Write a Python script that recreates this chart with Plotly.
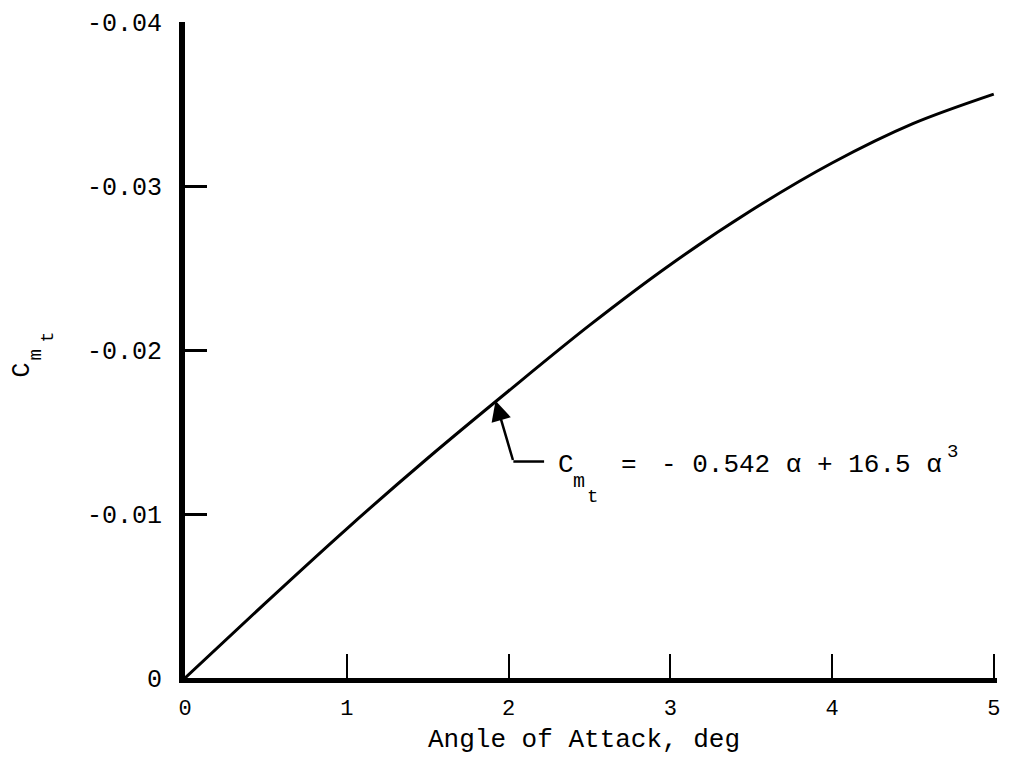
import plotly.graph_objects as go

# Data
alpha_deg = [0, 0.5, 1.0, 1.5, 2.0, 2.5, 3.0, 3.5, 4.0, 4.5, 5.0]
cm_t = [0, -0.0046, -0.0091, -0.0134, -0.0175, -0.0215, -0.0252, -0.0285, -0.0314, -0.0338, -0.0356]

x_ticks = [0, 1, 2, 3, 4, 5]
x_tick_text = ["0", "1", "2", "3", "4", "5"]
y_ticks = [0, -0.01, -0.02, -0.03, -0.04]
y_tick_text = ["0", "-0.01", "-0.02", "-0.03", "-0.04"]

FONT = "Liberation Mono, Courier New, monospace"

# page has an 8px body margin; figure sized so the page fits the 1009x765 window
W, H = 993, 749
ML, MR, MT, MB = 177, 1, 14, 79
PW, PH = W - ML - MR, H - MT - MB
OFF = 8


def px(X):  # screenshot x -> paper x
    return (X - OFF - ML) / PW


def py(Y):  # screenshot y -> paper y
    return (H - MB - (Y - OFF)) / PH


fig = go.Figure()
fig.add_trace(go.Scatter(
    x=alpha_deg, y=cm_t, mode="lines",
    line=dict(color="black", width=3, shape="spline", smoothing=0.9),
    showlegend=False, hoverinfo="skip",
))

fig.update_layout(
    width=W, height=H,
    margin=dict(l=ML, r=MR, t=MT, b=MB),
    paper_bgcolor="white", plot_bgcolor="white",
    font=dict(family=FONT, color="black", size=22),
    xaxis=dict(
        range=[0, 5.02], tickvals=x_ticks, ticktext=x_tick_text,
        showgrid=False, zeroline=False,
        showline=True, linecolor="black", linewidth=5,
        ticks="inside", ticklen=24, tickwidth=2, tickcolor="black",
        tickfont=dict(family=FONT, size=22),
        ticklabelstandoff=6, ticklabeloverflow="allow",
    ),
    yaxis=dict(
        range=[0, -0.04], tickvals=y_ticks, ticktext=y_tick_text,
        showgrid=False, zeroline=False,
        showline=True, linecolor="black", linewidth=6,
        ticks="inside", ticklen=22, tickwidth=3, tickcolor="black",
        tickfont=dict(family=FONT, size=25),
        ticklabelstandoff=12,
    ),
)


def txt(text, X, Y, size, angle=0, xanchor="center"):
    fig.add_annotation(
        xref="paper", yref="paper", x=px(X), y=py(Y), text=text,
        textangle=angle, showarrow=False, xanchor=xanchor, yanchor="middle",
        font=dict(family=FONT, size=size, color="black"),
    )


# x-axis title
txt("Angle of Attack, deg", 585, 740, 26)

# y-axis title C_m_t (rotated)
txt("C", 21, 370, 25, angle=-90)
txt("m", 35, 355, 19, angle=-90)
txt("t", 47, 337, 18, angle=-90)

# equation label
txt("C", 567, 465, 26)
txt("m", 580, 481, 20)
txt("t", 594, 497, 19)
txt("=", 631, 465, 26)
txt("-\u00a00.542\u00a0\u03b1\u00a0+\u00a016.5\u00a0\u03b1", 661, 465, 26, xanchor="left")
txt("3", 955, 452, 19)

# elbow leader: horizontal part
fig.add_shape(type="line", xref="x", yref="y",
              x0=2.03, y0=-0.0132, x1=2.22, y1=-0.0132,
              line=dict(color="black", width=2.5))
# angled part with arrowhead pointing to the curve
fig.add_annotation(
    xref="x", yref="y", x=1.92, y=-0.0169,
    axref="x", ayref="y", ax=2.03, ay=-0.0132,
    text="", showarrow=True, arrowhead=2, arrowsize=1.6, arrowwidth=2.5,
    arrowcolor="black",
)

fig.write_html("out.html")
